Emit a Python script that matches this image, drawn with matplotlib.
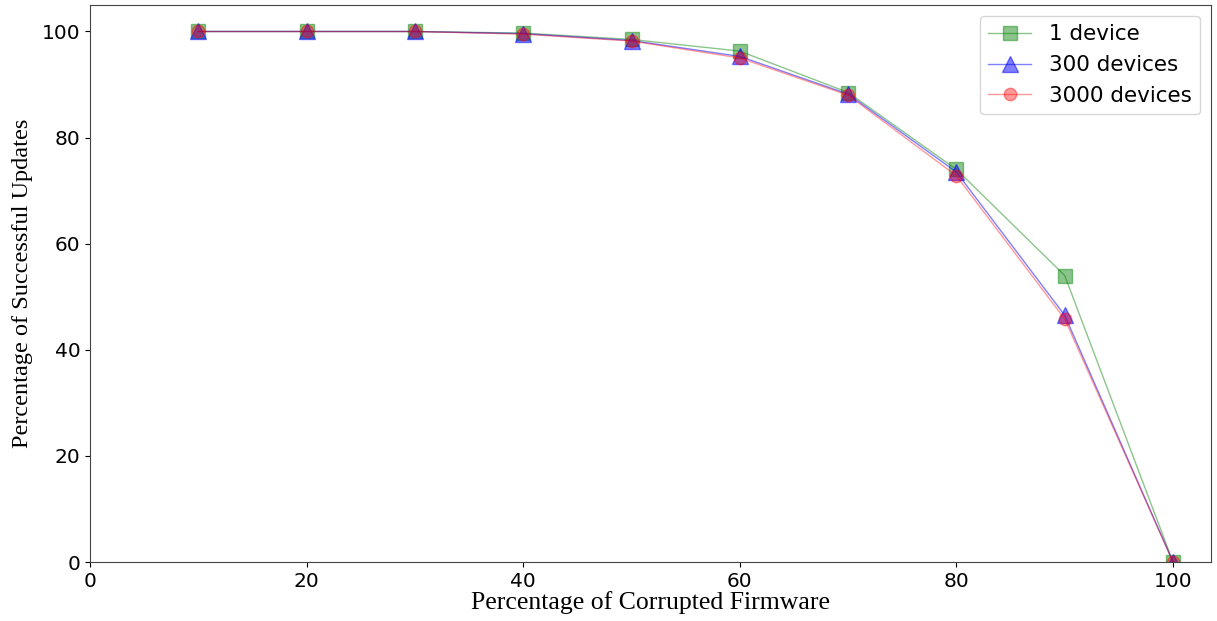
import numpy as np
import matplotlib.pyplot as plt

# datos
corrupted = [10, 20, 30, 40, 50, 60, 70, 80, 90, 100]
one_device = [100, 100, 100, 99.7, 98.5, 96.3, 88.5, 74.0, 54.0, 0]
dev_300 = [100, 100, 100, 99.6, 98.3, 95.3, 88.2, 73.5, 46.5, 0]
dev_3000 = [100, 100, 100, 99.5, 98.2, 95.0, 88.0, 72.8, 45.8, 0]

fig, ax = plt.subplots(figsize=(12.17, 6.21), dpi=100)

ax.plot(corrupted, one_device, color="green", marker="s", markersize=10, alpha=0.45, linewidth=1, label="1 device")
ax.plot(corrupted, dev_300, color="blue", marker="^", markersize=11, alpha=0.5, linewidth=1, label="300 devices")
ax.plot(corrupted, dev_3000, color="red", marker="o", markersize=9, alpha=0.4, linewidth=1, label="3000 devices")

ax.set_xlim(0, 103.5)
ax.set_ylim(0, 105)
ax.tick_params(labelsize=14.5)
for s in ax.spines.values():
    s.set_color("#444444")
ax.set_xlabel("Percentage of Corrupted Firmware", family="Liberation Serif", fontsize=18.5, labelpad=0)
ax.set_ylabel("Percentage of Successful Updates", family="Liberation Serif", fontsize=17.5, labelpad=6)
ax.legend(fontsize=15.5, loc="upper right")

plt.subplots_adjust(left=0.074, right=0.995, top=0.992, bottom=0.095)
plt.savefig("out.png")
